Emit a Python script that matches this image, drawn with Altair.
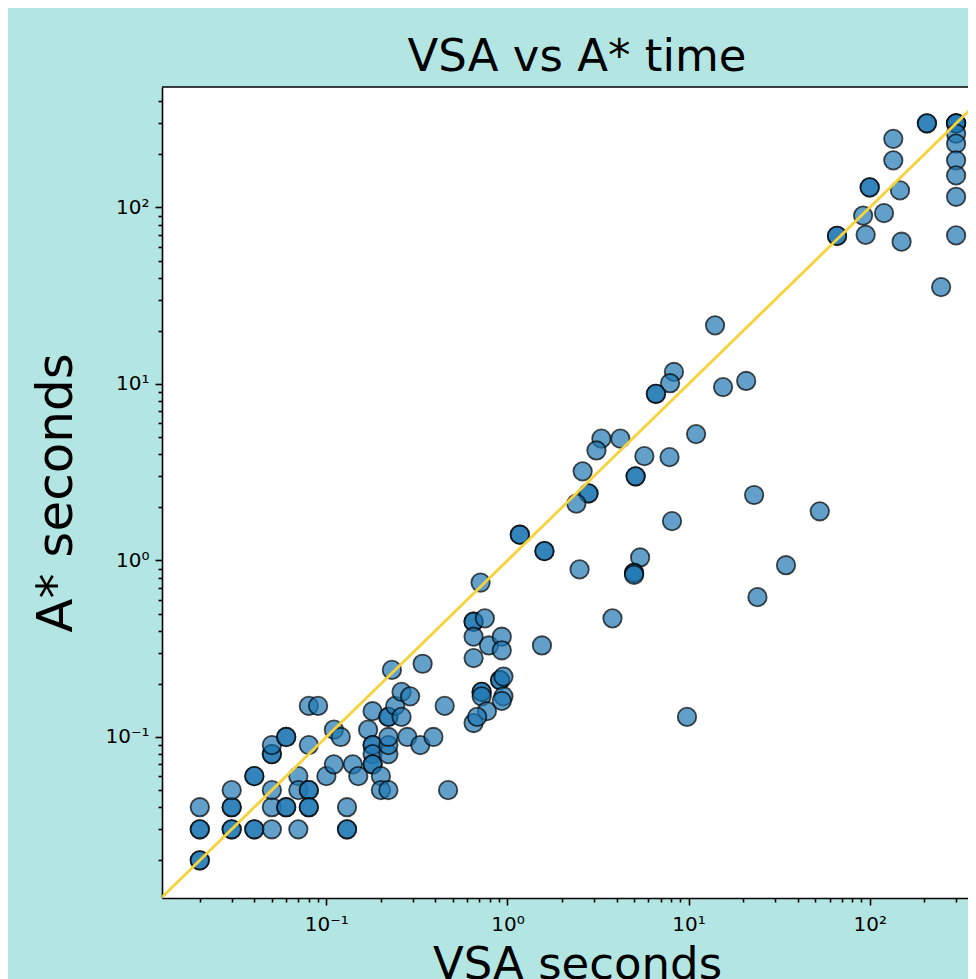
import altair as alt
import pandas as pd

# VSA seconds (x) and A* seconds (y); overlapping points listed repeatedly
vsa_seconds = [
    0.02, 0.02, 0.02, 0.02, 0.02, 0.03, 0.03, 0.03, 0.03, 0.03,
    0.04, 0.04, 0.04, 0.04, 0.05, 0.05, 0.05, 0.05, 0.05, 0.05,
    0.06, 0.06, 0.06, 0.06, 0.07, 0.07, 0.07, 0.08, 0.08, 0.08,
    0.08, 0.08, 0.08, 0.09, 0.10, 0.11, 0.11, 0.12, 0.13, 0.13,
    0.13, 0.14, 0.15, 0.17, 0.18, 0.18, 0.18, 0.18, 0.18, 0.18,
    0.20, 0.20, 0.22, 0.22, 0.22, 0.22, 0.22, 0.22, 0.24, 0.26,
    0.23, 0.26, 0.29, 0.28, 0.33, 0.39, 0.45, 0.47, 0.34,
    0.65, 0.65, 0.75, 0.65, 0.79, 0.93, 0.93, 0.65, 1.55, 0.72,
    0.72, 0.72, 0.91, 0.91, 0.95, 0.95, 0.93, 0.77, 0.65, 0.68,
    0.71,
    14.0, 8.3, 7.9, 6.6, 6.6, 15.5, 20.8, 3.3, 4.2, 3.1,
    11.0, 5.7, 7.85, 2.6, 5.1, 5.1, 2.8, 2.8, 2.4, 8.1,
    1.17, 1.17, 1.6, 1.6, 2.5, 5.4, 5.0, 5.0, 5.0, 3.8,
    23.0, 53.0, 34.5, 24.0, 9.8,
    135, 135, 100, 100, 147, 92, 120, 95, 66, 66,
    150, 207, 207, 300, 300, 300, 300, 300, 300, 300,
    300, 300, 248,
]
astar_seconds = [
    0.02, 0.02, 0.03, 0.03, 0.04, 0.03, 0.03, 0.04, 0.04, 0.05,
    0.03, 0.03, 0.06, 0.06, 0.03, 0.04, 0.05, 0.08, 0.08, 0.09,
    0.10, 0.10, 0.04, 0.04, 0.03, 0.06, 0.05, 0.05, 0.05, 0.04,
    0.04, 0.09, 0.15, 0.15, 0.06, 0.07, 0.11, 0.10, 0.04, 0.03,
    0.03, 0.07, 0.06, 0.11, 0.14, 0.09, 0.09, 0.08, 0.07, 0.07,
    0.06, 0.05, 0.05, 0.08, 0.09, 0.10, 0.13, 0.13, 0.15, 0.13,
    0.24, 0.18, 0.17, 0.10, 0.09, 0.10, 0.15, 0.05, 0.26,
    0.45, 0.45, 0.47, 0.37, 0.33, 0.37, 0.31, 0.28, 0.33, 0.18,
    0.18, 0.17, 0.21, 0.21, 0.22, 0.17, 0.16, 0.14, 0.12, 0.13,
    0.75,
    21.5, 11.7, 10.1, 8.8, 8.8, 9.6, 10.4, 4.9, 4.9, 4.2,
    5.2, 3.9, 3.85, 3.2, 3.0, 3.0, 2.4, 2.4, 2.1, 1.67,
    1.4, 1.4, 1.13, 1.13, 0.89, 1.04, 0.85, 0.85, 0.83, 0.47,
    2.35, 1.9, 0.94, 0.62, 0.13,
    245, 185, 130, 130, 125, 90, 93, 70, 69, 69,
    64, 300, 300, 300, 300, 300, 262, 230, 185, 152,
    115, 69.5, 35.4,
]

diag = [0.01, 1000.0]

title_text = "VSA vs A* time"
x_title = "VSA seconds"
y_title = "A* seconds"

W, H = 806, 811
X_DOMAIN = [0.01237, 349.0]
Y_DOMAIN = [0.01224, 481.6]

FONT = "DejaVu Sans"
BG = "#b3e6e2"

decades = [-2, -1, 0, 1, 2]
mults = [1, 2, 3, 4, 5, 6, 7, 8, 9]
all_ticks = [round(m * 10.0 ** d, 6) for d in decades for m in mults]
x_ticks = [v for v in all_ticks if X_DOMAIN[0] <= v <= X_DOMAIN[1]]
y_ticks = [v for v in all_ticks if Y_DOMAIN[0] <= v <= Y_DOMAIN[1]]

pow_test = "abs(log(datum.value)/LN10 - round(log(datum.value)/LN10)) < 1e-6"
sup = {-2: "\u207b\u00b2", -1: "\u207b\u00b9", 0: "\u2070", 1: "\u00b9", 2: "\u00b2"}
chain = "''"
for k, s in sup.items():
    chain = f"round(log(datum.value)/LN10) == {k} ? '10{s}' : " + chain
label_expr = f"({pow_test}) ? ({chain}) : ''"
tick_size = {"condition": {"test": pow_test, "value": 7}, "value": 4}

common_axis = dict(
    labelExpr=label_expr,
    tickSize=tick_size,
    tickWidth=1.6,
    tickColor="black",
    domainColor="black",
    domainWidth=1.6,
    labelFont=FONT,
    labelFontSize=20,
    labelColor="black",
    labelOverlap=False,
    labelFlush=False,
    grid=False,
    titleFont=FONT,
    titleFontWeight="normal",
    titleColor="black",
    titleAlign="center",
    titleBaseline="alphabetic",
)

x_axis = alt.Axis(values=x_ticks, title=x_title, labelPadding=9, titleFontSize=45,
                  titleX=415, titleY=80, **common_axis)
y_axis = alt.Axis(values=y_ticks, title=y_title, labelPadding=6, titleFontSize=50,
                  titleX=-91, titleY=H / 2, titleAngle=270, **common_axis)

x_scale = alt.Scale(type="log", domain=X_DOMAIN, nice=False)
y_scale = alt.Scale(type="log", domain=Y_DOMAIN, nice=False)

pts = pd.DataFrame({"vsa": vsa_seconds, "astar": astar_seconds})
line_df = pd.DataFrame({"vsa": diag, "astar": diag})

points = alt.Chart(pts).mark_point(
    shape="circle", filled=True, size=340, fill="#1f77b4", fillOpacity=0.7,
    stroke="black", strokeOpacity=0.7, strokeWidth=1.8, opacity=1,
).encode(
    x=alt.X("vsa:Q", scale=x_scale, axis=x_axis),
    y=alt.Y("astar:Q", scale=y_scale, axis=y_axis),
)

line = alt.Chart(line_df).mark_line(color="#f7d23a", strokeWidth=2.8, clip=True).encode(
    x=alt.X("vsa:Q", scale=x_scale, axis=x_axis),
    y=alt.Y("astar:Q", scale=y_scale, axis=y_axis),
)

top_border = alt.Chart(pd.DataFrame({"a": [0]})).mark_rule(
    color="black", strokeWidth=1.6
).encode(x=alt.value(0), x2=alt.value(W), y=alt.value(0))

chart = alt.layer(points, line, top_border).properties(
    width=W,
    height=H,
    padding={"left": 154, "top": 79, "right": 0, "bottom": 81},
    autosize=alt.AutoSizeParams(type="none"),
    background=BG,
    title=alt.TitleParams(title_text, font=FONT, fontSize=45, fontWeight="normal",
                          color="black", anchor="middle", dx=12, offset=6),
).configure_view(stroke=None, fill="white")

chart.save("out.html", embed_options={"renderer": "svg", "actions": False})
